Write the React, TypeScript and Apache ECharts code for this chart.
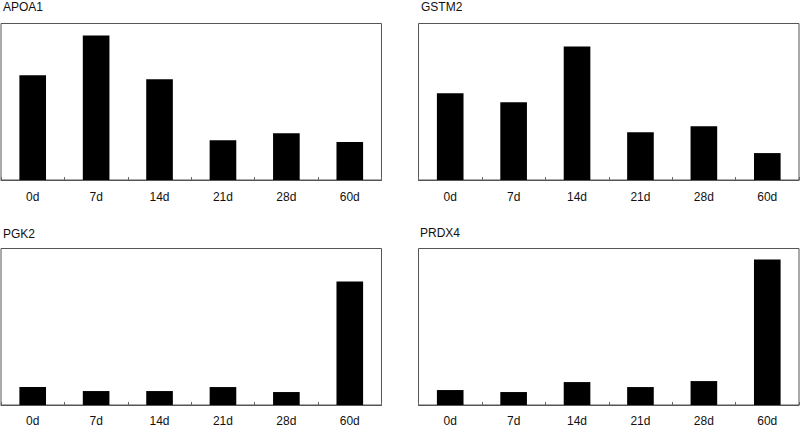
import React, { useEffect, useRef } from "react";
import * as echarts from "echarts";

const categories = ["0d", "7d", "14d", "21d", "28d", "60d"];
const titles = ["APOA1", "GSTM2", "PGK2", "PRDX4"];
const apoa1 = [105, 145, 101, 40, 47, 38];
const gstm2 = [87, 78, 134, 48, 54, 27];
const pgk2 = [18, 14, 14, 18, 13, 124];
const prdx4 = [15, 13, 23, 18, 24, 146];
const seriesData = [apoa1, gstm2, pgk2, prdx4];
const yMax = 157;

export default function App() {
  const ref = useRef<HTMLDivElement>(null);
  useEffect(() => {
    if (!ref.current) return;
    const chart = echarts.init(ref.current, undefined, { renderer: "svg" });
    const grids = [
      { left: 1, top: 23.5, width: 380.5, height: 156.5 },
      { left: 418.5, top: 23.5, width: 380.5, height: 156.5 },
      { left: 1, top: 248.5, width: 380.5, height: 156.5 },
      { left: 418.5, top: 248.5, width: 380.5, height: 156.5 },
    ];
    const titlePos = [
      { left: 3, top: 1 },
      { left: 421, top: 1 },
      { left: 3, top: 228 },
      { left: 420, top: 227 },
    ];
    chart.setOption({
      animation: false,
      backgroundColor: "#fff",
      title: titles.map((t, i) => ({
        text: t,
        left: titlePos[i].left,
        top: titlePos[i].top,
        padding: 0,
        textStyle: { fontFamily: "Liberation Sans, Arial", fontSize: 12, fontWeight: "normal", color: "#111" },
      })),
      grid: grids.map((g) => ({
        ...g,
        show: true,
        borderColor: "#555",
        borderWidth: 1,
        backgroundColor: "transparent",
      })),
      xAxis: grids.map((_, i) => ({
        type: "category",
        gridIndex: i,
        data: categories,
        axisLine: { show: true, lineStyle: { color: "#555", width: 1 } },
        axisTick: { show: true, inside: true, length: 3, alignWithLabel: false, lineStyle: { color: "#666" } },
        axisLabel: {
          margin: i < 2 ? 11 : 10,
          fontFamily: "Liberation Sans, Arial",
          fontSize: 12,
          color: "#111",
        },
      })),
      yAxis: grids.map((_, i) => ({
        type: "value",
        gridIndex: i,
        min: 0,
        max: yMax,
        show: false,
        splitLine: { show: false },
      })),
      series: seriesData.map((d, i) => ({
        type: "bar",
        xAxisIndex: i,
        yAxisIndex: i,
        data: d,
        barWidth: "42%",
        itemStyle: { color: "#000" },
      })),
    });
    return () => chart.dispose();
  }, []);
  return (
    <div
      ref={ref}
      style={{ position: "fixed", left: 0, top: 0, width: 800, height: 427 }}
    />
  );
}
